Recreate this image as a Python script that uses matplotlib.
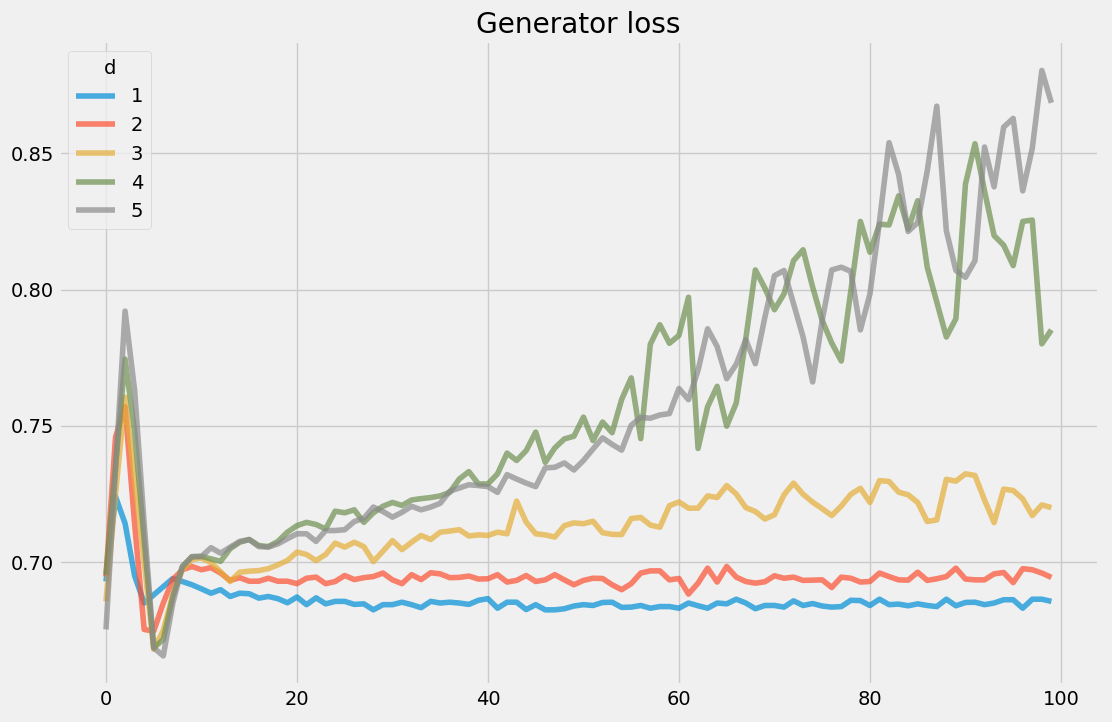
import matplotlib
matplotlib.use("Agg")
import matplotlib.pyplot as plt
import numpy as np

# generator loss per epoch, one series per value of d
epochs = np.arange(100)

loss_d1 = [0.6929, 0.724, 0.7142, 0.695, 0.685, 0.688, 0.691, 0.694, 0.6929, 0.6917,
           0.6902, 0.6886, 0.6899, 0.6874, 0.6886, 0.6884, 0.6868, 0.6874, 0.6866, 0.6851,
           0.6872, 0.6844, 0.6869, 0.6847, 0.6856, 0.6856, 0.6845, 0.6847, 0.6825, 0.6844,
           0.6844, 0.6853, 0.6844, 0.6833, 0.6856, 0.685, 0.6853, 0.685, 0.6845, 0.686,
           0.6866, 0.6831, 0.6853, 0.6853, 0.6826, 0.6844, 0.6825, 0.6825, 0.6829, 0.6839,
           0.6844, 0.6841, 0.6852, 0.6853, 0.6834, 0.6835, 0.6841, 0.6831, 0.6837, 0.6837,
           0.6831, 0.685, 0.684, 0.6831, 0.685, 0.6847, 0.6864, 0.685, 0.6829, 0.6841,
           0.6841, 0.6835, 0.6858, 0.6841, 0.6848, 0.6839, 0.6835, 0.6837, 0.686, 0.6859,
           0.6841, 0.6864, 0.6844, 0.6846, 0.684, 0.6847, 0.6841, 0.6837, 0.6864, 0.684,
           0.6852, 0.6853, 0.6844, 0.685, 0.6862, 0.6862, 0.6831, 0.6864, 0.6864, 0.6856]

loss_d2 = [0.6948, 0.7459, 0.757, 0.714, 0.6753, 0.6747, 0.685, 0.6936, 0.6972, 0.6984,
           0.6972, 0.698, 0.696, 0.6933, 0.6943, 0.693, 0.693, 0.6941, 0.693, 0.693,
           0.6921, 0.6941, 0.6945, 0.6921, 0.6929, 0.6951, 0.6936, 0.6943, 0.6947, 0.696,
           0.6935, 0.6921, 0.6954, 0.6936, 0.6961, 0.6957, 0.6943, 0.6944, 0.6949, 0.6938,
           0.6939, 0.6954, 0.6927, 0.6933, 0.6951, 0.6929, 0.6935, 0.6954, 0.6935, 0.6917,
           0.6933, 0.6941, 0.694, 0.6917, 0.6899, 0.6921, 0.696, 0.6968, 0.6968, 0.6935,
           0.694, 0.6883, 0.6923, 0.6978, 0.6927, 0.6984, 0.6945, 0.6929, 0.6923, 0.6928,
           0.695, 0.6941, 0.6945, 0.6933, 0.6934, 0.6935, 0.6907, 0.6945, 0.6941, 0.6927,
           0.6929, 0.696, 0.6947, 0.6935, 0.6934, 0.6963, 0.6933, 0.6939, 0.6947, 0.6978,
           0.6938, 0.6935, 0.6935, 0.6957, 0.6962, 0.6925, 0.6976, 0.6972, 0.696, 0.6944]

loss_d3 = [0.6856, 0.725, 0.7605, 0.73, 0.70, 0.668, 0.675, 0.688, 0.6972, 0.701,
           0.7015, 0.6998, 0.6965, 0.6929, 0.6963, 0.6967, 0.6969, 0.6976, 0.699, 0.7006,
           0.7037, 0.7028, 0.7006, 0.7028, 0.707, 0.7055, 0.7073, 0.7057, 0.7002, 0.704,
           0.7079, 0.7046, 0.7073, 0.7098, 0.7083, 0.711, 0.7114, 0.7119, 0.7096, 0.71,
           0.7098, 0.711, 0.7104, 0.7224, 0.7147, 0.7104, 0.71, 0.7092, 0.7134, 0.7144,
           0.7141, 0.715, 0.7108, 0.7102, 0.7101, 0.716, 0.7164, 0.7136, 0.7128, 0.7207,
           0.7221, 0.7198, 0.7198, 0.7243, 0.7237, 0.7281, 0.725, 0.72, 0.7186, 0.7158,
           0.7174, 0.7247, 0.729, 0.7249, 0.722, 0.7196, 0.7171, 0.7206, 0.7249, 0.7271,
           0.7219, 0.7299, 0.7296, 0.7257, 0.7247, 0.7219, 0.7149, 0.7155, 0.7304, 0.7297,
           0.7324, 0.7318, 0.7228, 0.7145, 0.7268, 0.7263, 0.7232, 0.7171, 0.721, 0.72]

loss_d4 = [0.6954, 0.735, 0.7745, 0.748, 0.708, 0.6686, 0.6716, 0.6875, 0.6984, 0.702,
           0.7021, 0.7012, 0.7003, 0.7049, 0.7073, 0.7083, 0.7061, 0.7057, 0.7076, 0.711,
           0.7134, 0.7146, 0.7138, 0.7122, 0.7187, 0.7181, 0.7192, 0.7146, 0.7181, 0.7205,
           0.7219, 0.7208, 0.7228, 0.7233, 0.7237, 0.7243, 0.7256, 0.7305, 0.7332, 0.7287,
           0.7287, 0.7324, 0.74, 0.7373, 0.7409, 0.7477, 0.7366, 0.7419, 0.7452, 0.7462,
           0.7532, 0.7446, 0.7514, 0.7475, 0.7597, 0.7676, 0.7453, 0.7799, 0.7871, 0.7803,
           0.7832, 0.7972, 0.7417, 0.757, 0.7645, 0.7499, 0.7584, 0.782, 0.8072, 0.8005,
           0.7926, 0.7984, 0.8106, 0.8146, 0.8009, 0.7887, 0.7804, 0.7738, 0.7996, 0.825,
           0.8137, 0.824, 0.8237, 0.8344, 0.8222, 0.8326, 0.8082, 0.7954, 0.7826, 0.7893,
           0.8387, 0.8535, 0.8362, 0.8198, 0.8163, 0.8088, 0.825, 0.8255, 0.7801, 0.7852]

loss_d5 = [0.6753, 0.734, 0.7921, 0.763, 0.714, 0.6686, 0.6656, 0.685, 0.6984, 0.702,
           0.7021, 0.7053, 0.7033, 0.7055, 0.7076, 0.7083, 0.7057, 0.7055, 0.7067, 0.7086,
           0.7104, 0.7104, 0.7076, 0.7116, 0.7116, 0.7119, 0.7149, 0.7161, 0.7202, 0.7186,
           0.7165, 0.7183, 0.7205, 0.7192, 0.7202, 0.7216, 0.726, 0.7272, 0.7284, 0.7281,
           0.7277, 0.7256, 0.7321, 0.7305, 0.729, 0.7277, 0.7346, 0.7348, 0.7364, 0.7338,
           0.7373, 0.7415, 0.7456, 0.7432, 0.7411, 0.7502, 0.7531, 0.7528, 0.754, 0.7545,
           0.7637, 0.7596, 0.7704, 0.7856, 0.7791, 0.7673, 0.7726, 0.7816, 0.7728, 0.7899,
           0.8051, 0.807, 0.7948, 0.7826, 0.7661, 0.7887, 0.8072, 0.8082, 0.8067, 0.7852,
           0.7984, 0.825, 0.8539, 0.8423, 0.8213, 0.8246, 0.8435, 0.8673, 0.8216, 0.807,
           0.8045, 0.8106, 0.8523, 0.8377, 0.8596, 0.8628, 0.8362, 0.8518, 0.8804, 0.8685]

labels = ["1", "2", "3", "4", "5"]
series = [loss_d1, loss_d2, loss_d3, loss_d4, loss_d5]

plt.style.use("fivethirtyeight")

fig, ax = plt.subplots(figsize=(11.12, 7.22), dpi=100)
for lab, vals in zip(labels, series):
    ax.plot(epochs, vals, label=lab, alpha=0.7)

ax.set_title("Generator loss")
ax.set_xticks([0, 20, 40, 60, 80, 100])
ax.set_yticks([0.70, 0.75, 0.80, 0.85])
ax.legend(title="d", loc="upper left")

fig.subplots_adjust(left=0.0528, right=0.988, bottom=0.051, top=0.943)
fig.savefig("out.png", dpi=100)
